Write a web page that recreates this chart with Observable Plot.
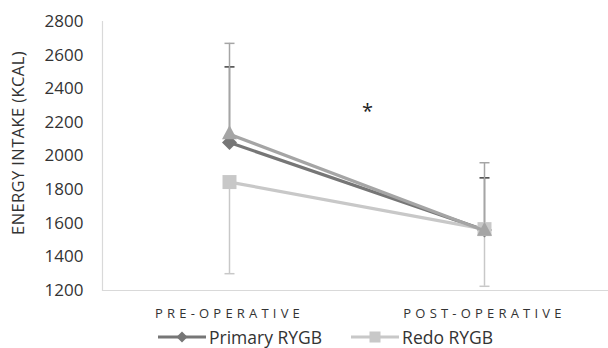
<!DOCTYPE html>
<html><head><meta charset="utf-8">
<script src="https://cdn.jsdelivr.net/npm/d3@7"></script>
<script src="https://cdn.jsdelivr.net/npm/@observablehq/plot@0.6"></script>
<style>
body{margin:0;background:#fff;font-family:"Open Sans",sans-serif;}
#legend{display:flex;align-items:center;height:22px;line-height:22px;padding-left:158px;font-size:17.5px;color:#333;}
.item{display:flex;align-items:center;}
.item svg{display:block;margin-right:3px;}
</style></head><body><div id="chart"></div><div id="legend"></div>
<script>
const phases = ["PRE-OPERATIVE", "POST-OPERATIVE"];
const seriesNames = ["Primary RYGB", "Redo RYGB", "Series 3"];
const primaryMean = [2080, 1560];
const primarySD = [450, 310];
const redoMean = [1845, 1565];
const redoSD = [545, 340];
const thirdMean = [2130, 1555];
const thirdSD = [540, 405];
const yTicks = [1200, 1400, 1600, 1800, 2000, 2200, 2400, 2600, 2800];
const yTitle = "ENERGY INTAKE (KCAL)";

const colors = {"Primary RYGB": "#767676", "Redo RYGB": "#c8c8c8", "Series 3": "#a5a5a5"};
const capColors = {"Primary RYGB": "#404040", "Redo RYGB": "#c8c8c8", "Series 3": "#a5a5a5"};

const diamondSym = {draw(c){const h=7.5;c.moveTo(0,-h);c.lineTo(h,0);c.lineTo(0,h);c.lineTo(-h,0);c.closePath();}};
const squareSym = {draw(c){const h=7;c.moveTo(-h,-h);c.lineTo(h,-h);c.lineTo(h,h);c.lineTo(-h,h);c.closePath();}};
const triangleSym = {draw(c){c.moveTo(0,-9);c.lineTo(7.5,5);c.lineTo(-7.5,5);c.closePath();}};
const capSym = {draw(c){c.moveTo(-5,0);c.lineTo(5,0);}};
const symbols = {"Primary RYGB": diamondSym, "Redo RYGB": squareSym, "Series 3": triangleSym};

const specs = [
  {name: "Primary RYGB", mean: primaryMean, sd: primarySD, dir: 1},
  {name: "Redo RYGB", mean: redoMean, sd: redoSD, dir: -1},
  {name: "Series 3", mean: thirdMean, sd: thirdSD, dir: 1}
];

const marks = [
  Plot.ruleY([1200], {stroke: "#d9d9d9", strokeWidth: 1.2}),
  Plot.frame({anchor: "left", stroke: "#d9d9d9", strokeWidth: 1.2}),
  Plot.axisY({ticks: yTicks, tickFormat: d3.format("d"), tickSize: 0, tickPadding: 19, fill: "#333", label: null}),
  Plot.text([yTitle], {frameAnchor: "left", textAnchor: "middle", rotate: -90, dx: -84, dy: -13, text: d => d, fontSize: 16.5, fill: "#333"}),
  Plot.axisX({tickSize: 0, tickPadding: 18, fill: "#333", label: null})
];
for (const s of specs) {
  const rows = phases.map((p, i) => ({phase: p, mean: s.mean[i], end: s.mean[i] + s.dir * s.sd[i]}));
  marks.push(Plot.ruleX(rows, {x: "phase", y1: "mean", y2: "end", stroke: colors[s.name], strokeWidth: 1.5}));
  marks.push(Plot.dot(rows, {x: "phase", y: "end", symbol: capSym, stroke: capColors[s.name], strokeWidth: 1.5, fill: "none"}));
}
for (const s of specs) {
  const rows = phases.map((p, i) => ({phase: p, mean: s.mean[i]}));
  marks.push(Plot.line(rows, {x: "phase", y: "mean", stroke: colors[s.name], strokeWidth: 3.2}));
  marks.push(Plot.dot(rows, {x: "phase", y: "mean", symbol: symbols[s.name], fill: colors[s.name], stroke: "none"}));
}
marks.push(Plot.text(["*"], {x: () => phases[1], y: () => 2265, dx: -117, text: d => d, fontSize: 20, fill: "#222"}));

const chart = Plot.plot({
  width: 608, height: 326,
  marginLeft: 102, marginRight: 0, marginTop: 21, marginBottom: 36,
  x: {type: "point", domain: phases, range: [229, 484], padding: 0},
  y: {domain: [1200, 2800]},
  style: {fontFamily: "Open Sans, sans-serif", background: "#fff", overflow: "visible"},
  marks
});
function setSize(sel, size) {
  chart.querySelectorAll(sel).forEach(g => {
    g.setAttribute("font-size", size);
    g.style.fontSize = size + "px";
    g.querySelectorAll("text").forEach(t => { t.setAttribute("font-size", size); t.style.fontSize = size + "px"; });
  });
}
setSize('[aria-label="y-axis tick label"]', 17);
setSize('[aria-label="x-axis tick label"]', 13);
chart.querySelectorAll('[aria-label="x-axis tick label"] text').forEach(t => t.setAttribute("letter-spacing", "4.2"));
chart.querySelectorAll('[aria-label="text"] text').forEach(t => { if (t.textContent === yTitle) t.setAttribute("letter-spacing", "0.4"); });
document.getElementById("chart").appendChild(chart);

const legend = document.getElementById("legend");
const legendSeries = seriesNames.slice(0, 2);
legendSeries.forEach((name, i) => {
  const item = document.createElement("div");
  item.className = "item";
  if (i > 0) item.style.marginLeft = "29px";
  const sym = name === "Primary RYGB"
    ? '<path d="M24,1.5 L29.5,7 L24,12.5 L18.5,7Z" fill="' + colors[name] + '"/>'
    : '<rect x="18.5" y="1.5" width="11" height="11" fill="' + colors[name] + '"/>';
  item.innerHTML = '<svg width="48" height="14"><line x1="0" x2="48" y1="7" y2="7" stroke="' + colors[name] + '" stroke-width="3.2"/>' + sym + '</svg><span>' + name + '</span>';
  legend.appendChild(item);
});
</script></body></html>
